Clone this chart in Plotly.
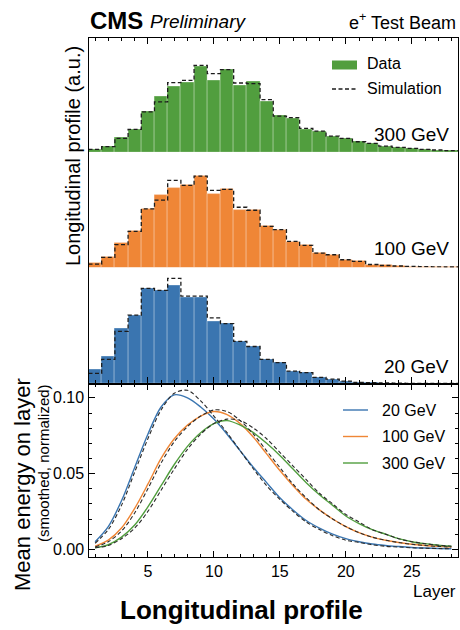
import plotly.graph_objects as go

# ---- data -----------------------------------------------------------------
layers = list(range(1, 29))

# per-layer longitudinal profile (a.u.), test-beam data and simulation
data_300 = [2.7, 5.3, 14.7, 22.7, 40.3, 56.0, 65.3, 69.7, 86.3, 72.0, 83.0, 66.3, 71.3, 50.5,
            37.0, 33.7, 23.0, 21.0, 16.0, 13.7, 10.3, 8.7, 6.0, 4.7, 3.7, 2.7, 2.0, 1.3]
sim_300 = [2.7, 5.3, 13.7, 22.7, 40.3, 50.3, 69.7, 72.0, 87.0, 78.7, 82.7, 69.3, 68.7, 52.7,
           36.0, 34.5, 23.7, 21.0, 16.0, 13.7, 10.3, 8.7, 6.0, 4.7, 3.7, 2.7, 2.0, 1.3]

data_100 = [4.3, 10.0, 24.3, 36.0, 58.3, 71.7, 79.3, 81.7, 91.0, 72.7, 77.7, 57.7, 57.7, 41.0,
            37.7, 25.3, 22.0, 14.3, 12.7, 7.7, 6.0, 2.7, 2.0, 1.3, 1.0, 0.7, 0.7, 0.5]
sim_100 = [3.3, 10.0, 22.7, 36.0, 58.3, 67.0, 86.7, 81.7, 91.0, 76.7, 77.7, 60.0, 57.0, 41.0,
           37.7, 26.0, 22.0, 14.3, 12.7, 7.7, 6.0, 3.0, 2.0, 1.5, 1.1, 0.8, 0.7, 0.5]

data_20 = [14.3, 26.7, 55.0, 67.7, 94.3, 92.3, 96.7, 85.7, 85.7, 61.7, 59.3, 41.7, 36.7, 24.0,
           20.7, 12.3, 10.7, 6.0, 4.3, 2.3, 1.0, 0.7, 0.4, 0.3, 0.2, 0.2, 0.1, 0.1]
sim_20 = [10.0, 24.0, 51.7, 67.7, 94.3, 92.3, 104.3, 86.7, 86.7, 65.0, 59.3, 41.7, 36.7, 24.0,
          20.7, 12.3, 10.7, 6.0, 4.3, 2.3, 1.2, 0.8, 0.5, 0.3, 0.2, 0.2, 0.1, 0.1]

# smoothed, normalized mean energy per layer
smooth_data_20 = [0.005, 0.015, 0.032, 0.054, 0.076, 0.094, 0.102, 0.100, 0.094, 0.086, 0.076,
                  0.065, 0.054, 0.044, 0.034, 0.026, 0.019, 0.014, 0.010, 0.007, 0.005, 0.0035,
                  0.0025, 0.0018, 0.0012, 0.0008, 0.0005, 0.0003]
smooth_sim_20 = [0.004, 0.013, 0.029, 0.051, 0.073, 0.092, 0.103, 0.105, 0.098, 0.088, 0.077,
                 0.065, 0.053, 0.042, 0.033, 0.025, 0.018, 0.013, 0.009, 0.006, 0.0045, 0.003,
                 0.002, 0.0015, 0.001, 0.0007, 0.0005, 0.0003]
smooth_data_100 = [0.002, 0.006, 0.014, 0.027, 0.043, 0.060, 0.073, 0.082, 0.088, 0.091, 0.089,
                   0.083, 0.074, 0.063, 0.052, 0.042, 0.033, 0.026, 0.020, 0.015, 0.011, 0.008,
                   0.006, 0.0045, 0.0033, 0.0025, 0.0019, 0.0015]
smooth_sim_100 = [0.0015, 0.005, 0.012, 0.024, 0.040, 0.057, 0.071, 0.081, 0.088, 0.092, 0.091,
                  0.085, 0.076, 0.065, 0.054, 0.043, 0.034, 0.026, 0.020, 0.015, 0.011, 0.008,
                  0.006, 0.0045, 0.0033, 0.0025, 0.0019, 0.0015]
smooth_data_300 = [0.001, 0.003, 0.008, 0.016, 0.028, 0.042, 0.056, 0.068, 0.077, 0.083, 0.085,
                   0.082, 0.077, 0.070, 0.062, 0.053, 0.044, 0.036, 0.029, 0.022, 0.017, 0.013,
                   0.010, 0.007, 0.005, 0.0037, 0.0027, 0.002]
smooth_sim_300 = [0.001, 0.0025, 0.007, 0.014, 0.025, 0.039, 0.053, 0.066, 0.076, 0.083, 0.086,
                  0.085, 0.080, 0.073, 0.064, 0.055, 0.046, 0.037, 0.030, 0.023, 0.018, 0.013,
                  0.010, 0.007, 0.005, 0.0037, 0.0027, 0.002]

energies = ["20 GeV", "100 GeV", "300 GeV"]
colors = {"20 GeV": "#3a75b0", "100 GeV": "#ef8636", "300 GeV": "#519e3e"}

# ---- styling helpers --------------------------------------------------------
W, H = 460, 630
FONT = "Liberation Sans, Arial, Helvetica, sans-serif"
SIM_DASH = dict(color="#1c1c1c", width=1.3, dash="4px,2.5px")


def fx(p):
    return p / W


def fy(p):
    return 1 - p / H


X_DOM = [fx(88.5), fx(458)]
edges_top, b1, b2, b3, b4 = 37.5, 152, 267.5, 383.5, 557
HIST_DOMS = {"300 GeV": [fy(b1), fy(edges_top)],
             "100 GeV": [fy(b2), fy(b1)],
             "20 GeV": [fy(b3), fy(b2)]}
LINE_DOM = [fy(b4), fy(b3)]
XRANGE = [0.5, 28.5]
HIST_YMAX = 115

bin_edges = [l - 0.5 for l in layers] + [layers[-1] + 0.5]

fig = go.Figure()

hist_sets = [("300 GeV", data_300, sim_300, "1"),
             ("100 GeV", data_100, sim_100, "2"),
             ("20 GeV", data_20, sim_20, "3")]

for label, dvals, svals, n in hist_sets:
    xa = "x" if n == "1" else "x" + n
    ya = "y" if n == "1" else "y" + n
    fig.add_trace(go.Bar(x=layers, y=dvals, width=1.0, xaxis=xa, yaxis=ya,
                         marker=dict(color=colors[label],
                                     line=dict(color="rgba(255,255,255,0.35)", width=0.8)),
                         showlegend=False, hoverinfo="skip"))
    fig.add_trace(go.Scatter(x=bin_edges, y=svals + [svals[-1]], mode="lines",
                             line_shape="hv", line=SIM_DASH, xaxis=xa, yaxis=ya,
                             showlegend=False, hoverinfo="skip"))
    fig.layout["xaxis" if n == "1" else "xaxis" + n] = dict(
        domain=X_DOM, range=XRANGE, visible=False, anchor=ya)
    fig.layout["yaxis" if n == "1" else "yaxis" + n] = dict(
        domain=HIST_DOMS[label], range=[0, HIST_YMAX], visible=False, anchor=xa)

# smoothed profiles
smooth = {"20 GeV": (smooth_data_20, smooth_sim_20),
          "100 GeV": (smooth_data_100, smooth_sim_100),
          "300 GeV": (smooth_data_300, smooth_sim_300)}
for label in energies:
    d, s = smooth[label]
    fig.add_trace(go.Scatter(x=layers, y=d, mode="lines",
                             line=dict(color=colors[label], width=1.4, shape="spline",
                                       smoothing=0.9),
                             xaxis="x4", yaxis="y4", showlegend=False, hoverinfo="skip"))
for label in energies:
    d, s = smooth[label]
    fig.add_trace(go.Scatter(x=layers, y=s, mode="lines",
                             line=dict(color="#2a2a2a", width=1.1, dash="4px,2.5px",
                                       shape="spline", smoothing=0.9),
                             xaxis="x4", yaxis="y4", showlegend=False, hoverinfo="skip"))

# frame around the stacked histogram panels
fig.add_trace(go.Scatter(x=[None], y=[None], xaxis="x5", yaxis="y5",
                         showlegend=False, hoverinfo="skip"))

tick_common = dict(ticks="inside", ticklen=6, tickwidth=1, tickcolor="black",
                   showline=True, linecolor="black", linewidth=1.3,
                   showgrid=False, zeroline=False)
minor_x = dict(ticks="inside", ticklen=3, tickwidth=1, tickcolor="black",
               dtick=1, tick0=0, showgrid=False)

fig.update_layout(
    xaxis4=dict(domain=X_DOM, range=XRANGE, anchor="y4", mirror="ticks",
                tick0=0, dtick=5, minor=minor_x,
                tickfont=dict(family=FONT, size=16, color="black"), **tick_common),
    yaxis4=dict(domain=LINE_DOM, range=[-0.0051, 0.1095], anchor="x4", mirror="ticks",
                tick0=0, dtick=0.05, tickformat=".2f",
                minor=dict(ticks="inside", ticklen=3, tickwidth=1, tickcolor="black",
                           dtick=0.01, tick0=0, showgrid=False),
                tickfont=dict(family=FONT, size=16, color="black"), **tick_common),
    xaxis5=dict(domain=X_DOM, range=XRANGE, anchor="y5", mirror="ticks",
                tick0=0, dtick=5, minor=minor_x, showticklabels=False, **tick_common),
    yaxis5=dict(domain=[fy(b3), fy(edges_top)], range=[0, 1], anchor="x5", mirror=True,
                showline=True, linecolor="black", linewidth=1.3, ticks="",
                showticklabels=False, showgrid=False, zeroline=False),
)

annotations = []


def text(s, x, y, size, xanchor="left", yanchor="middle", angle=0, **kw):
    annotations.append(dict(text=s, x=fx(x), y=fy(y), xref="paper", yref="paper",
                            xanchor=xanchor, yanchor=yanchor, textangle=angle,
                            showarrow=False, font=dict(family=FONT, size=size, color="black"),
                            **kw))


# header
text("<b>CMS</b>", 88, 21, 24)
text("<i>Preliminary</i>", 148, 22, 19)
text("e<sup>+</sup> Test Beam", 458, 22, 18, xanchor="right")

# energy tags on the stacked panels
text("300 GeV", 451, 134, 19, xanchor="right")
text("100 GeV", 451, 249, 19, xanchor="right")
text("20 GeV", 451, 366, 19, xanchor="right")

# axis titles
text("Longitudinal profile (a.u.)", 73, 156, 20, xanchor="center", angle=-90)
text("Mean energy on layer", 22, 485, 22, xanchor="center", angle=-90)
text("(smoothed, normalized)", 43, 463, 15, xanchor="center", angle=-90)
text("Layer", 458, 591, 17, xanchor="right")
text("<b>Longitudinal profile</b>", 242, 610, 26, xanchor="center")

# legend: histogram panels
shapes = [dict(type="rect", xref="paper", yref="paper",
               x0=fx(332), x1=fx(357), y0=fy(69.5), y1=fy(60.5),
               fillcolor=colors["300 GeV"], line=dict(width=0)),
          dict(type="line", xref="paper", yref="paper",
               x0=fx(332), x1=fx(357), y0=fy(89), y1=fy(89), line=SIM_DASH)]
text("Data", 365, 64, 16)
text("Simulation", 365, 89, 16)

# legend: smoothed profile panel
for label, yy in zip(energies, [410, 436.5, 463]):
    shapes.append(dict(type="line", xref="paper", yref="paper",
                       x0=fx(343), x1=fx(368), y0=fy(yy), y1=fy(yy),
                       line=dict(color=colors[label], width=1.4)))
    text(label, 380, yy, 16)

fig.update_layout(
    width=W, height=H,
    margin=dict(l=0, r=0, t=0, b=0),
    paper_bgcolor="white", plot_bgcolor="rgba(0,0,0,0)",
    showlegend=False, bargap=0,
    annotations=annotations, shapes=shapes,
    font=dict(family=FONT, color="black"),
)

fig.write_html("out.html")
